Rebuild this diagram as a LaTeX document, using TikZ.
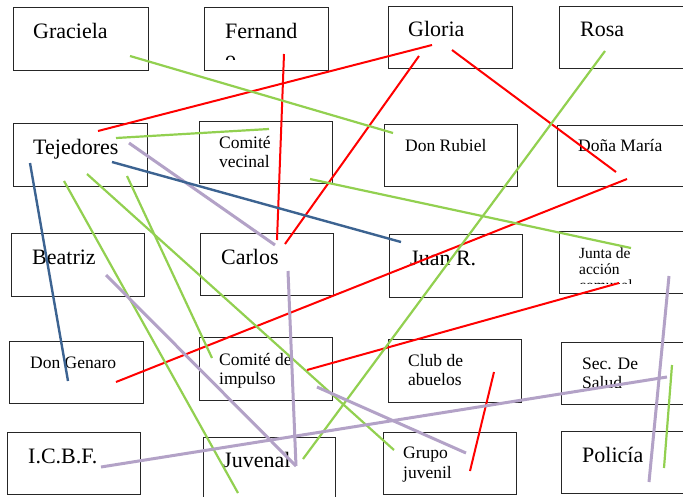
\documentclass[tikz,border=0pt]{standalone}
\usepackage{fontspec}
\setmainfont{Liberation Serif}
\usepackage{tikz}
\definecolor{lnRed}{HTML}{FF0000}
\definecolor{lnGreen}{HTML}{92D050}
\definecolor{lnPurple}{HTML}{B3A2C7}
\definecolor{lnBlue}{HTML}{3C6391}

\begin{document}
\begin{tikzpicture}[
  x=1pt, y=-1pt,
  bx/.style={draw=black!85,line width=1pt,anchor=north west,inner sep=0pt,minimum width=133pt,minimum height=63pt},
  big/.style={anchor=base west,inner sep=0pt,align=left,font=\fontsize{22}{28}\selectfont},
  mid/.style={anchor=base west,inner sep=0pt,align=left,font=\fontsize{17.5}{19}\selectfont},
  sml/.style={anchor=base west,inner sep=0pt,align=left,font=\fontsize{15.5}{16}\selectfont},
  rd/.style={draw=lnRed,line width=2pt},
  gr/.style={draw=lnGreen,line width=2.2pt},
  pu/.style={draw=lnPurple,line width=3pt},
  bl/.style={draw=lnBlue,line width=2.4pt},
]
  \useasboundingbox (0,0) rectangle (683,496);
  \fill[white] (0,0) rectangle (683,496);

  \node[bx,minimum width=135pt] (graciela) at (13,7) {};
  \node[bx,minimum width=124pt] (fernando) at (204,7) {};
  \node[bx,minimum width=124pt,minimum height=62pt] (gloria) at (388,6) {};
  \node[bx,minimum width=141pt,minimum height=62pt] (rosa) at (559,6) {};
  \node[bx,minimum width=134pt] (tejedores) at (13,123) {};
  \node[bx,minimum height=62pt] (vecinal) at (199,121) {};
  \node[bx,minimum height=62pt] (rubiel) at (384,124) {};
  \node[bx,minimum width=143pt,minimum height=61pt] (maria) at (557,125) {};
  \node[bx] (beatriz) at (11,233) {};
  \node[bx,minimum height=62pt] (carlos) at (200,233) {};
  \node[bx] (juan) at (389,234) {};
  \node[bx,minimum width=141pt,minimum height=62pt] (junta) at (559,231) {};
  \node[bx,minimum width=134pt,minimum height=62pt] (genaro) at (9,341) {};
  \node[bx] (impulso) at (199,337) {};
  \node[bx] (club) at (388,339) {};
  \node[bx,minimum width=139pt,minimum height=62pt] (salud) at (561,342) {};
  \node[bx,minimum height=62pt] (icbf) at (7,432) {};
  \node[bx,minimum width=132pt,minimum height=73pt] (juvenal) at (203,437) {};
  \node[bx,minimum height=62pt] (grupo) at (383,432) {};
  \node[bx,minimum width=139pt,minimum height=62pt] (policia) at (561,431) {};

  \node[big] (t-graciela) at (33,38) {Graciela};
  \begin{scope}
    \clip (fernando.north west) rectangle (328,59);
    \node[big] (t-fernando) at (225,66) {Fernand\\o};
  \end{scope}
  \node[big] (t-gloria) at (408,36) {Gloria};
  \node[big] (t-rosa) at (580,36) {Rosa};
  \node[big] (t-tejedores) at (33,154) {Tejedores};
  \node[mid] (t-vecinal) at (219,167) {Comité\\vecinal};
  \node[mid] (t-rubiel) at (405,151) {Don Rubiel};
  \node[mid] (t-maria) at (578,151) {Doña María};
  \node[big] (t-beatriz) at (32,264) {Beatriz};
  \node[big] (t-carlos) at (221,264) {Carlos};
  \node[big] (t-juan) at (410,265) {Juan R.};
  \begin{scope}
    \clip (junta.north west) rectangle (683,283);
    \node[sml] (t-junta) at (579,290) {Junta de\\acción\\comunal};
  \end{scope}
  \node[mid] (t-genaro) at (30,368) {Don Genaro};
  \node[mid] (t-impulso) at (219,384) {Comité de\\impulso};
  \node[mid] (t-club) at (408,385) {Club de\\abuelos};
  \begin{scope}
    \clip (salud.north west) rectangle (683,387);
    \node[mid] (t-salud) at (582,388) {Sec. De\\Salud};
  \end{scope}
  \node[big] (t-icbf) at (28,463) {I.C.B.F.};
  \node[big] (t-juvenal) at (223,467) {Juvenal};
  \node[mid,font=\fontsize{17.5}{20}\selectfont] (t-grupo) at (403,478) {Grupo\\juvenil};
  \node[big] (t-policia) at (582,462) {Policía};

  \coordinate (tej-r) at (98,131);   \coordinate (glo-r1) at (432,45);
  \coordinate (fer-r) at (284,54);   \coordinate (car-r1) at (277,240);
  \coordinate (glo-r2) at (419,56);  \coordinate (car-r2) at (285,244);
  \coordinate (glo-r3) at (452,50);  \coordinate (mar-r1) at (616,172);
  \coordinate (mar-r2) at (627,179); \coordinate (gen-r) at (116,382);
  \coordinate (jun-r) at (619,283);  \coordinate (imp-r) at (307,370);
  \coordinate (clu-r) at (494,372);  \coordinate (gru-r) at (470,471);

  \coordinate (gra-g) at (130,56);   \coordinate (rub-g) at (393,133);
  \coordinate (tej-g1) at (116,138); \coordinate (vec-g1) at (269,129);
  \coordinate (ros-g) at (605,51);   \coordinate (juv-g) at (303,459);
  \coordinate (vec-g2) at (310,179); \coordinate (jun-g) at (631,248);
  \coordinate (tej-g2) at (64,181);  \coordinate (juv-g2) at (238,493);
  \coordinate (tej-g3) at (87,174);  \coordinate (gru-g) at (394,450);
  \coordinate (tej-g4) at (127,176); \coordinate (imp-g) at (212,358);
  \coordinate (sal-g) at (672,365);  \coordinate (pol-g) at (664,468);

  \coordinate (tej-p) at (129,143);  \coordinate (car-p1) at (275,245);
  \coordinate (bea-p) at (106,275);  \coordinate (juv-p) at (296,466);
  \coordinate (car-p2) at (288,271);
  \coordinate (imp-p) at (317,387);  \coordinate (gru-p) at (466,453);
  \coordinate (icb-p) at (101,467);  \coordinate (sal-p) at (667,377);
  \coordinate (jun-p) at (669,276);  \coordinate (pol-p) at (649,482);

  \coordinate (tej-b1) at (30,163);  \coordinate (gen-b) at (68,381);
  \coordinate (tej-b2) at (112,162); \coordinate (jua-b) at (401,242);

  \draw[rd] (tej-r) -- (glo-r1);
  \draw[rd] (fer-r) -- (car-r1);
  \draw[rd] (glo-r2) -- (car-r2);
  \draw[rd] (glo-r3) -- (mar-r1);
  \draw[rd] (mar-r2) -- (gen-r);
  \draw[rd] (jun-r) -- (imp-r);
  \draw[rd] (clu-r) -- (gru-r);

  \draw[gr] (gra-g) -- (rub-g);
  \draw[gr] (tej-g1) -- (vec-g1);
  \draw[gr] (ros-g) -- (juv-g);
  \draw[gr] (vec-g2) -- (jun-g);
  \draw[gr] (tej-g2) -- (juv-g2);
  \draw[gr] (tej-g3) -- (gru-g);
  \draw[gr] (tej-g4) -- (imp-g);
  \draw[gr] (sal-g) -- (pol-g);

  \draw[pu] (tej-p) -- (car-p1);
  \draw[pu] (bea-p) -- (juv-p);
  \draw[pu] (car-p2) -- (juv-p);
  \draw[pu] (imp-p) -- (gru-p);
  \draw[pu] (icb-p) -- (sal-p);
  \draw[pu] (jun-p) -- (pol-p);

  \draw[bl] (tej-b1) -- (gen-b);
  \draw[bl] (tej-b2) -- (jua-b);
\end{tikzpicture}
\end{document}
